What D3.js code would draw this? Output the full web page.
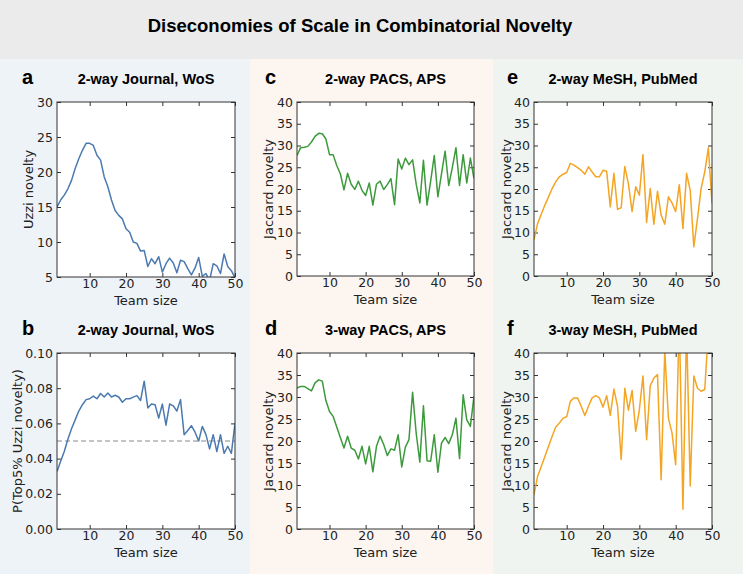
<!DOCTYPE html>
<html>
<head>
<meta charset="utf-8">
<script src="https://cdn.jsdelivr.net/npm/d3@7"></script>
<style>
  body { margin: 0; padding: 0; background: #fff; }
  svg { display: block; }
  .tick text { font-family: "DejaVu Sans", sans-serif; font-size: 12.5px; fill: #222; }
  .tick line { stroke: #333; }
</style>
</head>
<body>
<svg id="chart"></svg>
<script>
// team sizes 1..50
var teamSize = [1,2,3,4,5,6,7,8,9,10,11,12,13,14,15,16,17,18,19,20,21,22,23,24,25,
  26,27,28,29,30,31,32,33,34,35,36,37,38,39,40,41,42,43,44,45,46,47,48,49,50];
var xTicks = [10, 20, 30, 40, 50];

// a: 2-way Journal, WoS (Uzzi novelty)
var uzziJournal = [15.0,16.0,16.7,17.6,18.8,20.5,21.9,23.1,24.1,24.1,23.8,22.4,21.7,19.3,17.9,16.0,14.5,13.8,13.3,11.9,
  11.4,10.0,9.8,8.7,8.8,6.5,7.6,6.9,7.9,5.7,6.9,7.7,7.0,5.6,7.4,7.2,6.2,5.3,6.3,7.8,
  5.1,5.5,4.5,6.9,6.6,5.5,8.3,6.5,5.9,4.9];
// b: 2-way Journal, WoS (P(Top5% Uzzi novelty))
var top5Journal = [0.0327,0.0385,0.044,0.051,0.057,0.062,0.067,0.0706,0.0735,0.074,0.0755,0.074,0.077,0.075,0.0773,0.075,0.076,0.075,0.072,0.074,
  0.074,0.0749,0.0758,0.073,0.084,0.0688,0.071,0.0706,0.063,0.071,0.059,0.071,0.070,0.067,0.0735,0.0536,0.056,0.0587,0.055,0.050,
  0.0583,0.0536,0.0455,0.0536,0.044,0.0536,0.043,0.047,0.043,0.0602];
var top5Baseline = 0.05;
// c: 2-way PACS, APS
var jaccardPacs2 = [27.7,29.5,29.6,29.8,30.8,32.1,32.8,32.7,31.5,27.9,27.9,25.4,23.5,19.8,23.6,21.1,19.9,21.8,19.7,18.5,
  21.4,16.3,21.1,21.8,19.9,21.0,22.4,16.4,26.9,24.6,27.1,25.6,26.7,21.1,16.8,26.6,16.3,21.8,27.7,18.2,
  23.5,28.7,20.8,24.9,29.5,20.8,27.9,21.4,27.1,22.4];
// d: 3-way PACS, APS
var jaccardPacs3 = [32.0,32.4,32.4,31.9,31.4,33.2,33.9,33.6,29.2,26.7,25.6,23.2,20.8,18.4,21.1,18.4,17.9,15.9,18.8,14.8,
  18.8,13.0,18.8,21.1,19.2,16.7,18.2,17.9,21.4,14.1,18.6,20.3,31.1,21.7,15.2,28.0,15.5,15.4,21.4,12.9,
  19.5,20.8,19.4,21.4,25.2,16.0,30.5,24.8,23.3,30.2];
// e: 2-way MeSH, PubMed
var jaccardMesh2 = [8.3,12.1,14.2,16.3,18.2,20.1,21.7,22.8,23.4,23.8,25.9,25.5,24.9,24.3,23.4,25.1,23.9,22.8,22.8,24.3,
  24.1,15.9,23.6,15.3,15.7,25.2,21.1,14.8,20.5,18.6,27.9,12.3,20.1,11.9,19.5,14.0,11.9,18.2,16.8,14.8,
  21.0,10.9,23.6,19.7,6.7,13.2,20.1,23.9,29.5,16.7];
// f: 3-way MeSH, PubMed
var jaccardMesh3 = [7.8,12.0,14.2,16.5,18.8,21.1,23.2,24.1,25.2,25.5,29.0,29.8,29.8,27.9,25.8,27.9,29.8,30.3,29.8,27.7,
  30.3,25.8,31.8,27.9,15.8,32.0,27.0,31.5,22.2,27.1,34.8,20.3,32.6,34.3,35.1,11.2,40.5,25.2,21.8,14.6,
  48.0,4.5,46.0,9.8,34.8,32.0,31.3,31.7,45.0,44.0];

var panelLetters = ["a", "b", "c", "d", "e", "f"];
var panelTitles = ["2-way Journal, WoS", "2-way Journal, WoS", "2-way PACS, APS",
  "3-way PACS, APS", "2-way MeSH, PubMed", "3-way MeSH, PubMed"];
var yLabels = ["Uzzi novelty", "P(Top5% Uzzi novelty)", "Jaccard novelty",
  "Jaccard novelty", "Jaccard novelty", "Jaccard novelty"];
var seriesList = [uzziJournal, top5Journal, jaccardPacs2, jaccardPacs3, jaccardMesh2, jaccardMesh3];
var yDomains = [[5, 30], [0, 0.10], [0, 40], [0, 40], [0, 40], [0, 40]];
var yTickLists = [[5,10,15,20,25,30], [0,0.02,0.04,0.06,0.08,0.10], [0,5,10,15,20,25,30,35,40],
  [0,5,10,15,20,25,30,35,40], [0,5,10,15,20,25,30,35,40], [0,5,10,15,20,25,30,35,40]];

var width = 743, height = 574;
var svg = d3.select("#chart").attr("width", width).attr("height", height);

// backgrounds
svg.append("rect").attr("x", 0).attr("y", 0).attr("width", width).attr("height", 59).attr("fill", "#ebebeb");
var columns = [
  { x: 0, w: 250, fill: "#eef3f8", color: "#4a7ab0" },
  { x: 250, w: 243, fill: "#fcf5f0", color: "#3c9a3c" },
  { x: 493, w: 250, fill: "#f0f4f1", color: "#f4a523" }
];
columns.forEach(function (c) {
  svg.append("rect").attr("x", c.x).attr("y", 59).attr("width", c.w).attr("height", height - 59).attr("fill", c.fill);
});

svg.append("text")
  .attr("x", 360).attr("y", 31.5)
  .attr("text-anchor", "middle")
  .style("font-family", "'Liberation Sans', Arial, sans-serif")
  .style("font-weight", "bold")
  .style("font-size", "18.5px")
  .text("Diseconomies of Scale in Combinatorial Novelty");

// plot boxes (layout)
var boxes = [
  { l: 57, t: 102, r: 235, b: 277, ylab: 28 },
  { l: 57, t: 353, r: 235, b: 529, ylab: 17 },
  { l: 297, t: 102, r: 474, b: 276, ylab: 268 },
  { l: 297, t: 353, r: 474, b: 529, ylab: 268 },
  { l: 534, t: 102, r: 712, b: 276, ylab: 506 },
  { l: 534, t: 353, r: 712, b: 529, ylab: 506 }
];
var letterX = [22, 22, 265, 265, 507, 507];

boxes.forEach(function (bx, i) {
  var col = columns[Math.floor(i / 2)];
  var x = d3.scaleLinear().domain([1, 50]).range([bx.l, bx.r]);
  var y = d3.scaleLinear().domain(yDomains[i]).range([bx.b, bx.t]);
  var g = svg.append("g").attr("class", "panel-" + panelLetters[i]);

  g.append("rect").attr("x", bx.l).attr("y", bx.t)
    .attr("width", bx.r - bx.l).attr("height", bx.b - bx.t).attr("fill", "#fff");

  var clipId = "clip" + i;
  g.append("clipPath").attr("id", clipId).append("rect")
    .attr("x", bx.l).attr("y", bx.t).attr("width", bx.r - bx.l).attr("height", bx.b - bx.t);

  var fmt = i === 1 ? d3.format(".2f") : d3.format("d");

  // axes, ticks inward on all four sides
  g.append("g").attr("transform", "translate(0," + bx.b + ")")
    .call(d3.axisBottom(x).tickValues(xTicks).tickSizeInner(-4).tickSizeOuter(0).tickPadding(2))
    .call(function (a) { a.select(".domain").remove(); });
  g.append("g").attr("transform", "translate(0," + bx.t + ")")
    .call(d3.axisTop(x).tickValues(xTicks).tickSizeInner(-4).tickSizeOuter(0).tickFormat(""))
    .call(function (a) { a.select(".domain").remove(); });
  g.append("g").attr("transform", "translate(" + bx.l + ",0)")
    .call(d3.axisLeft(y).tickValues(yTickLists[i]).tickFormat(fmt).tickSizeInner(-4).tickSizeOuter(0).tickPadding(4))
    .call(function (a) { a.select(".domain").remove(); });
  g.append("g").attr("transform", "translate(" + bx.r + ",0)")
    .call(d3.axisRight(y).tickValues(yTickLists[i]).tickSizeInner(-4).tickSizeOuter(0).tickFormat(""))
    .call(function (a) { a.select(".domain").remove(); });

  if (i === 1) {
    g.append("line")
      .attr("x1", bx.l).attr("x2", bx.r)
      .attr("y1", y(top5Baseline)).attr("y2", y(top5Baseline))
      .attr("stroke", "#888").attr("stroke-width", 1).attr("stroke-dasharray", "5,3");
  }

  var line = d3.line().x(function (d, k) { return x(teamSize[k]); }).y(function (d) { return y(d); });
  g.append("path")
    .datum(seriesList[i])
    .attr("clip-path", "url(#" + clipId + ")")
    .attr("d", line)
    .attr("fill", "none")
    .attr("stroke", col.color)
    .attr("stroke-width", 1.5)
    .attr("stroke-linejoin", "round");

  g.append("rect").attr("x", bx.l).attr("y", bx.t)
    .attr("width", bx.r - bx.l).attr("height", bx.b - bx.t)
    .attr("fill", "none").attr("stroke", "#333").attr("stroke-width", 1);

  // labels
  g.append("text")
    .attr("x", (bx.l + bx.r) / 2).attr("y", bx.b + 28)
    .attr("text-anchor", "middle")
    .style("font-family", "'DejaVu Sans', sans-serif").style("font-size", "13px").attr("fill", "#222")
    .text("Team size");
  g.append("text")
    .attr("transform", "translate(" + (bx.ylab + 5) + "," + ((bx.t + bx.b) / 2) + ") rotate(-90)")
    .attr("text-anchor", "middle")
    .style("font-family", "'DejaVu Sans', sans-serif").style("font-size", "13px").attr("fill", "#222")
    .text(yLabels[i]);
  g.append("text")
    .attr("x", (bx.l + bx.r) / 2).attr("y", bx.t - 18)
    .attr("text-anchor", "middle")
    .style("font-family", "'Liberation Sans', Arial, sans-serif").style("font-weight", "bold").style("font-size", "14.5px")
    .text(panelTitles[i]);
  g.append("text")
    .attr("x", letterX[i]).attr("y", bx.t - 18)
    .style("font-family", "'Liberation Sans', Arial, sans-serif").style("font-weight", "900").style("font-size", "20px")
    .text(panelLetters[i]);
});
</script>
</body>
</html>
